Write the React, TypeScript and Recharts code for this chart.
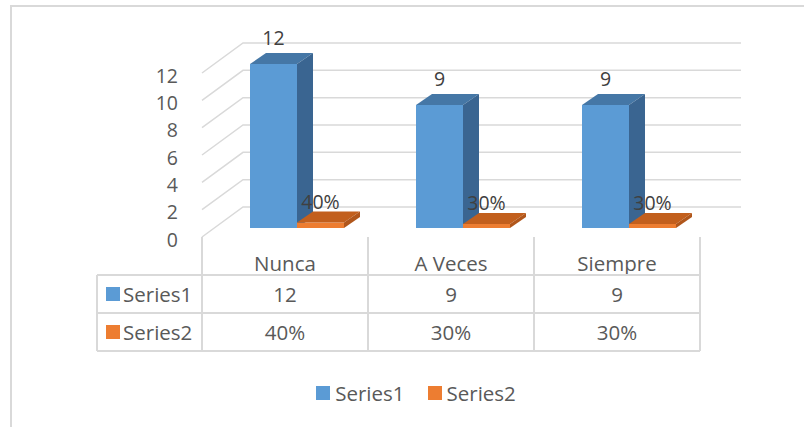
import React from "react";
import {
  BarChart,
  Bar,
  XAxis,
  YAxis,
  CartesianGrid,
  LabelList,
  Legend,
} from "recharts";

const CATEGORIES = ["Nunca", "A Veces", "Siempre"];
const SERIES1 = [12, 9, 9];
const SERIES2 = [0.4, 0.3, 0.3];
const Y_TICKS = [0, 2, 4, 6, 8, 10, 12];
const SERIES_NAMES = ["Series1", "Series2"];

const FONT = "'Open Sans', 'Liberation Sans', sans-serif";
const TEXT = "#595959";
const GRID = "#d9d9d9";

const BLUE = { front: "#5b9bd5", top: "#4577a6", side: "#3a6591" };
const ORANGE = { front: "#ed7d31", top: "#c25f1d", side: "#b0561b" };

// fake 3D: wall depth, bar position inside depth, bar depth
const WALL_DX = 41;
const WALL_DY = 30;
const SHIFT_X = 12;
const SHIFT_Y = 9;
const BAR_DX = 16;
const BAR_DY = 11;

const PLOT_W = 498;
const CELL_W = PLOT_W / CATEGORIES.length;
const LEGEND_COL = 105;
const ROW_H = 38;
const TABLE_FONT = 20.5;

const data = CATEGORIES.map((name, i) => ({
  name,
  s1: SERIES1[i],
  s2: SERIES2[i],
}));

const pct = (v: number) => `${Math.round(v * 100)}%`;

function box(p: any) {
  const vb = p.viewBox ?? {};
  return {
    x: Number(p.x ?? vb.x),
    y: Number(p.y ?? vb.y),
    width: Number(p.width ?? vb.width),
    height: Number(p.height ?? vb.height),
  };
}

function make3DBar(c: { front: string; top: string; side: string }) {
  return (p: any) => {
    const { x, y, width: w, height: h } = box(p);
    const fx = x + SHIFT_X;
    const fy = y - SHIFT_Y;
    return (
      <g>
        <rect x={fx} y={fy} width={w} height={h} fill={c.front} />
        <polygon
          points={`${fx},${fy} ${fx + BAR_DX},${fy - BAR_DY} ${fx + w + BAR_DX},${fy - BAR_DY} ${fx + w},${fy}`}
          fill={c.top}
        />
        <polygon
          points={`${fx + w},${fy} ${fx + w + BAR_DX},${fy - BAR_DY} ${fx + w + BAR_DX},${fy + h - BAR_DY} ${fx + w},${fy + h}`}
          fill={c.side}
        />
      </g>
    );
  };
}

function makeLabel(lift: number, fmt: (v: number) => string) {
  return (p: any) => {
    const { x, y, width } = box(p);
    return (
      <text
        x={x + width / 2 + SHIFT_X}
        y={y - SHIFT_Y - lift}
        textAnchor="middle"
        dominantBaseline="central"
        fontFamily={FONT}
        fontSize={19.5}
        fill="#404040"
      >
        {fmt(Number(p.value))}
      </text>
    );
  };
}

function TableTick(p: any) {
  const { x, y, index } = p;
  const i = index as number;
  const left = x - CELL_W / 2;
  const right = x + CELL_W / 2;
  const txt = {
    textAnchor: "middle" as const,
    dominantBaseline: "central" as const,
    fontFamily: FONT,
    fontSize: TABLE_FONT,
    fill: TEXT,
  };
  const lineStart = i === 0 ? left - LEGEND_COL : left;
  const swatches = [BLUE.front, ORANGE.front];
  return (
    <g>
      <text x={x} y={y + 26} {...txt}>
        {CATEGORIES[i]}
      </text>
      <text x={x} y={y + ROW_H + 19} {...txt}>
        {SERIES1[i]}
      </text>
      <text x={x} y={y + ROW_H * 2 + 19} {...txt}>
        {pct(SERIES2[i])}
      </text>
      {[1, 2, 3].map((r) => (
        <line
          key={r}
          x1={lineStart}
          x2={right}
          y1={y + ROW_H * r}
          y2={y + ROW_H * r}
          stroke={GRID}
          strokeWidth={2}
        />
      ))}
      <line x1={right} x2={right} y1={y} y2={y + ROW_H * 3} stroke={GRID} strokeWidth={2} />
      {i === 0 && (
        <g>
          <line x1={left} x2={left} y1={y} y2={y + ROW_H * 3} stroke={GRID} strokeWidth={2} />
          <line
            x1={left - LEGEND_COL}
            x2={left - LEGEND_COL}
            y1={y + ROW_H}
            y2={y + ROW_H * 3}
            stroke={GRID}
            strokeWidth={2}
          />
          {SERIES_NAMES.map((n, k) => (
            <g key={n}>
              <rect
                x={left - LEGEND_COL + 9}
                y={y + ROW_H * (k + 1) + 12}
                width={14}
                height={14}
                fill={swatches[k]}
              />
              <text
                x={left - LEGEND_COL + 26}
                y={y + ROW_H * (k + 1) + 19}
                dominantBaseline="central"
                fontFamily={FONT}
                fontSize={TABLE_FONT}
                fill={TEXT}
              >
                {n}
              </text>
            </g>
          ))}
        </g>
      )}
    </g>
  );
}

function YTick(p: any) {
  return (
    <text
      x={p.x}
      y={p.y + 2}
      textAnchor="end"
      dominantBaseline="central"
      fontFamily={FONT}
      fontSize={19.5}
      fill={TEXT}
    >
      {p.payload.value}
    </text>
  );
}

function WallLine(p: any) {
  const { x1, y1, x2 } = p;
  return (
    <polyline
      key={`wall-${p.index}`}
      points={`${x1},${y1} ${x1 + WALL_DX},${y1 - WALL_DY} ${x2 + WALL_DX},${y1 - WALL_DY}`}
      fill="none"
      stroke={GRID}
      strokeWidth={1.5}
    />
  );
}

function LegendContent() {
  const colors = [BLUE.front, ORANGE.front];
  return (
    <div
      style={{
        display: "flex",
        justifyContent: "center",
        gap: 23,
        fontFamily: FONT,
        fontSize: TABLE_FONT,
        color: TEXT,
        lineHeight: "20px",
      }}
    >
      {SERIES_NAMES.map((n, i) => (
        <span key={n} style={{ display: "flex", alignItems: "center" }}>
          <span
            style={{
              display: "inline-block",
              width: 14,
              height: 14,
              background: colors[i],
              marginRight: 5,
            }}
          />
          {n}
        </span>
      ))}
    </div>
  );
}

export default function App() {
  return (
    <div
      style={{
        position: "absolute",
        left: 0,
        top: 0,
        width: 804,
        height: 427,
        background: "#fff",
      }}
    >
      <div
        style={{
          position: "absolute",
          left: 10,
          top: 5,
          right: 0,
          bottom: 0,
          borderTop: `2px solid ${GRID}`,
          borderLeft: `2px solid ${GRID}`,
        }}
      />
      <div style={{ position: "absolute", left: 0, top: 0 }}>
        <BarChart
          width={804}
          height={427}
          data={data}
          margin={{ top: 73, right: 104, bottom: 75, left: 142 }}
          barGap={0}
          barSize={47}
        >
          <CartesianGrid vertical={false} horizontal={WallLine} />
          <YAxis
            domain={[0, 12]}
            ticks={Y_TICKS}
            width={60}
            axisLine={false}
            tickLine={false}
            tickSize={0}
            tickMargin={24}
            tick={YTick}
          />
          <XAxis
            dataKey="name"
            height={115}
            interval={0}
            axisLine={false}
            tickLine={false}
            tickSize={0}
            tickMargin={0}
            tick={TableTick}
          />
          <Bar
            dataKey="s1"
            name={SERIES_NAMES[0]}
            fill={BLUE.front}
            shape={make3DBar(BLUE)}
            isAnimationActive={false}
          >
            <LabelList dataKey="s1" content={makeLabel(27, (v) => String(v))} />
          </Bar>
          <Bar
            dataKey="s2"
            name={SERIES_NAMES[1]}
            fill={ORANGE.front}
            shape={make3DBar(ORANGE)}
            isAnimationActive={false}
          >
            <LabelList dataKey="s2" content={makeLabel(21, pct)} />
          </Bar>
          <Legend
            layout="horizontal"
            verticalAlign="middle"
            align="center"
            wrapperStyle={{ top: 383, left: 14, width: 804, height: 20 }}
            content={LegendContent}
          />
        </BarChart>
      </div>
    </div>
  );
}
